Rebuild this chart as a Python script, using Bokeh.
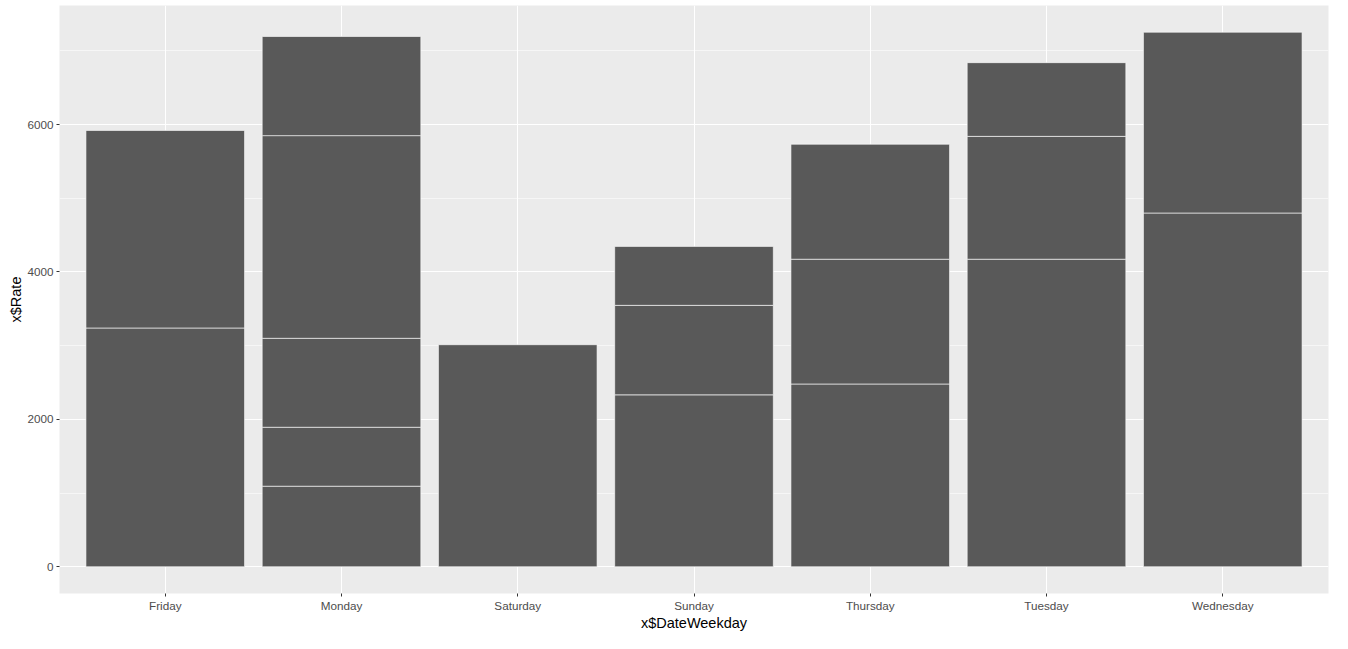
import numpy as np
from bokeh.plotting import figure
from bokeh.models import Range1d, FixedTicker, ColumnDataSource
from bokeh.embed import file_html
from bokeh.resources import INLINE

# ---- data (segment values, stacked bottom to top) ----
days = ["Friday", "Monday", "Saturday", "Sunday", "Thursday", "Tuesday", "Wednesday"]
friday = [3240, 2680]
monday = [1093, 800, 1207, 2750, 1345]
saturday = [3013]
sunday = [2333, 1214, 800]
thursday = [2480, 1693, 1560]
tuesday = [4173, 1667, 1000]
wednesday = [4800, 2453]
y_ticks = [0, 2000, 4000, 6000]
y_minor = [1000, 3000, 5000, 7000]

series = [friday, monday, saturday, sunday, thursday, tuesday, wednesday]

left, right, bottom, top = [], [], [], []
for i, vals in enumerate(series):
    xc = i + 1
    cum = np.concatenate([[0], np.cumsum(vals)])
    for j in range(len(vals)):
        left.append(xc - 0.45)
        right.append(xc + 0.45)
        bottom.append(cum[j])
        top.append(cum[j + 1])
src = ColumnDataSource(dict(left=left, right=right, bottom=bottom, top=top))

ymax = max(sum(v) for v in series)
pad = ymax * 0.05

p = figure(width=1332, height=633, output_backend="svg", toolbar_location=None,
           x_range=Range1d(0.4, len(days) + 0.6), y_range=Range1d(-pad, ymax + pad),
           min_border_left=59, min_border_right=4, min_border_top=5, min_border_bottom=30)
p.outline_line_color = None
p.background_fill_color = "#EBEBEB"
p.border_fill_color = "white"

p.quad(left="left", right="right", bottom="bottom", top="top", source=src,
       fill_color="#595959", line_color="white", line_width=0.6)

p.xaxis.ticker = FixedTicker(ticks=list(range(1, len(days) + 1)))
p.xaxis.major_label_overrides = {i + 1: d for i, d in enumerate(days)}
p.yaxis.ticker = FixedTicker(ticks=y_ticks, minor_ticks=y_minor)

for ax in (p.xaxis[0], p.yaxis[0]):
    ax.axis_line_color = None
    ax.major_tick_line_color = "#333333"
    ax.major_tick_in = 0
    ax.major_tick_out = 3
    ax.minor_tick_line_color = None
    ax.major_label_text_color = "#4D4D4D"
    ax.major_label_text_font = "Liberation Sans"
    ax.major_label_text_font_size = "11.7px"
    ax.major_label_standoff = 2
    ax.axis_label_text_font = "Liberation Sans"
    ax.axis_label_text_font_size = "14.5px"
    ax.axis_label_text_font_style = "normal"
    ax.axis_label_text_color = "black"
    ax.axis_label_standoff = 0

p.xaxis.axis_label = "x$DateWeekday"
p.yaxis.axis_label = "x$Rate"

p.xgrid.grid_line_color = "white"
p.xgrid.grid_line_width = 1.1
p.ygrid.grid_line_color = "white"
p.ygrid.grid_line_width = 1.1
p.ygrid.minor_grid_line_color = "white"
p.ygrid.minor_grid_line_width = 0.55

open("out.html", "w").write(file_html(p, INLINE))
